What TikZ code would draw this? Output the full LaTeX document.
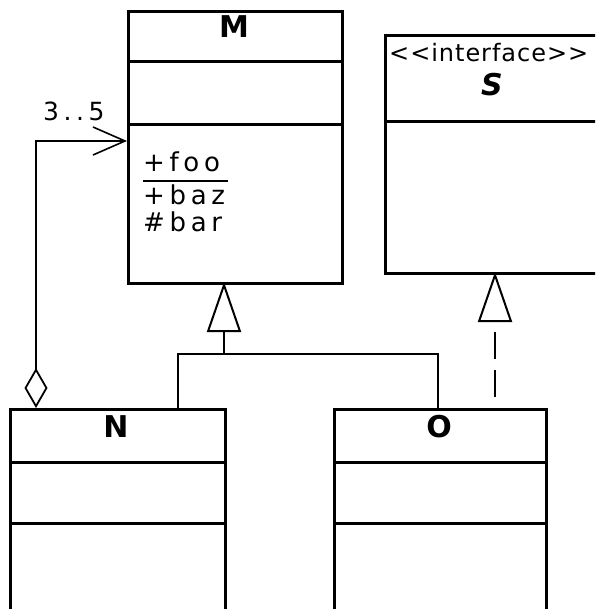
\documentclass[tikz,border=0pt]{standalone}
\usepackage{fontspec}
\setmainfont{DejaVu Sans}
\newfontfamily\spaced{DejaVu Sans}[LetterSpace=18]
\newfontfamily\stereofont{DejaVu Sans}[LetterSpace=4]
\usetikzlibrary{arrows.meta}
\tikzset{
  classbox/.style={draw, line width=3pt, fill=white, anchor=north west, inner sep=0pt},
  divider/.style={line width=3pt},
  member/.style={inner sep=0pt, anchor=base west, font=\spaced\fontsize{26}{30}\selectfont},
  classname/.style={inner sep=0pt, anchor=base, font=\fontsize{30}{34}\selectfont\bfseries},
  conn/.style={line width=2.8pt},
  gen/.style={-{Triangle[open, fill=white, length=50pt, width=34pt, line width=2pt]}},
}
\begin{document}
\begin{tikzpicture}[x=1pt, y=-1pt]
\path[use as bounding box, clip] (0,0) rectangle (595,609);
% class M
\node[classbox, minimum width=214pt, minimum height=272pt] (M) at (127,10) {};
\draw[divider] (127,62) -- (341,62);
\draw[divider] (127,125) -- (341,125);
\node[classname] (Mname) at (234,38) {M};
\node[member] (foo) at (143,172) {+foo};
\draw[line width=2.5pt] (143,181) -- (228,181);
\node[member] (baz) at (143,205) {+baz};
\node[member] (bar) at (143,232) {\#bar};
% interface S
\node[classbox, minimum width=216pt, minimum height=238pt] (S) at (384,34) {};
\draw[divider] (384,122) -- (600,122);
\node[member, font=\stereofont\fontsize{24}{28}\selectfont] (stereo) at (389,62) {<<interface>>};
\node[classname, font=\fontsize{30}{34}\selectfont\bfseries\itshape] (Sname) at (492,96) {S};
% class N
\node[classbox, minimum width=215pt, minimum height=240pt] (N) at (9,408) {};
\draw[divider] (9,462) -- (224,462);
\draw[divider] (9,523) -- (224,523);
\node[classname] (Nname) at (116,437) {N};
% class O
\node[classbox, minimum width=212pt, minimum height=240pt] (O) at (333,408) {};
\draw[divider] (333,462) -- (545,462);
\draw[divider] (333,523) -- (545,523);
\node[classname] (Oname) at (439,437) {O};
% attachment points
\coordinate (Mgen) at (224,282);
\coordinate (Sgen) at (495,272);
\coordinate (Ntop) at (178,408);
\coordinate (Otop) at (438,408);
\coordinate (Nagg) at (36,408);
\coordinate (Magg) at (127,141);
\coordinate (junc) at (224,354);
% generalizations
\draw[conn, gen] (Ntop) |- (junc) -- (Mgen);
\draw[conn] (Otop) |- (junc);
% realization
\draw[conn, gen, dash pattern=on 27pt off 11pt, dash phase=27pt] (Otop -| Sgen) -- (Sgen);
% aggregation
\draw[conn, {Diamond[open, fill=white, length=40pt, width=23pt, line width=1.8pt]}-{Straight Barb[length=32pt, width=28pt, line width=1.6pt]}] (Nagg) |- (Magg);
\node[member, font=\spaced\fontsize{25}{28}\selectfont] (mult) at (43,121) {3..5};
\end{tikzpicture}
\end{document}
